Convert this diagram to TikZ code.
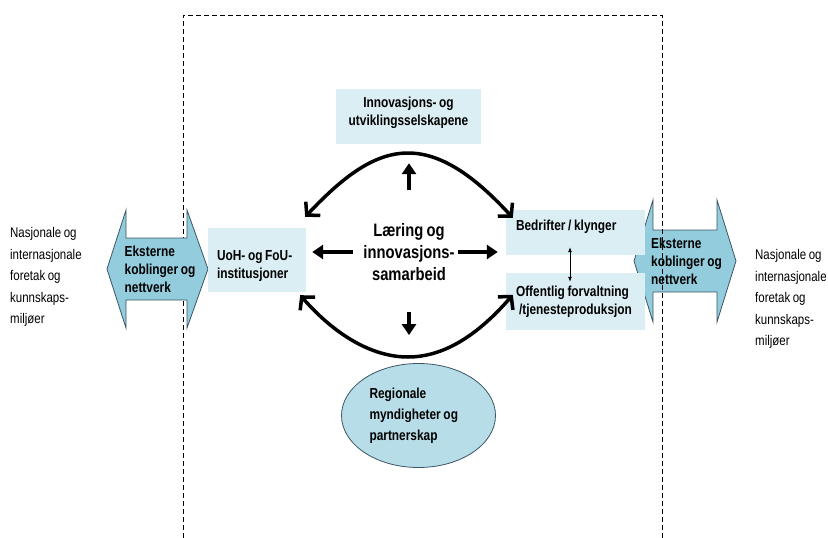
\documentclass[tikz,border=0pt]{standalone}
\usepackage{fontspec}
\setmainfont{Liberation Sans}[FakeStretch=0.82,WordSpace=0.8]
\usepackage{tikz}
\usetikzlibrary{arrows.meta}
\usetikzlibrary{shapes.geometric}
\definecolor{boxblue}{HTML}{DBEEF4}
\definecolor{arrowblue}{HTML}{93CDDD}
\definecolor{ellblue}{HTML}{B7DEE8}
\definecolor{edgegrey}{HTML}{3B5566}

\begin{document}
\begin{tikzpicture}[x=1pt,y=-1pt,
		infobox/.style={fill=boxblue,inner sep=0pt,font=\bfseries\fontsize{14.5}{18}\selectfont},
		blockarrow/.style={fill=arrowblue,draw=edgegrey,line width=0.8pt},
		bigarrow/.style={line width=3.5pt,-{Triangle[length=11pt,width=14pt]}},
		bendarrow/.style={line width=3.5pt,{Straight Barb[length=9pt,width=20pt]}-{Straight Barb[length=9pt,width=20pt]}},
		outertext/.style={align=left,anchor=west,inner sep=0pt,font=\fontsize{14}{21.5}\selectfont}]
				\useasboundingbox (0,0) rectangle (828,538);
				\def\rmid{261};
				% right block arrow sits under the frame
				\draw[blockarrow] (634,\rmid) -- (653,200) -- (653,230) -- (717,230) -- (717,200) -- (736,\rmid)
				-- (717,322) -- (717,292) -- (653,292) -- (653,322) -- cycle;
				\draw[dashed,line width=0.6pt,dash pattern=on 5pt off 3pt] (183,538) -- (183,15) -- (662,15) -- (662,538);
				\draw[blockarrow] (107,269) -- (126,210) -- (126,238) -- (187,238) -- (187,210) -- (208,269)
				-- (187,328) -- (187,300) -- (126,300) -- (126,328) -- cycle;
				\node[infobox,fill=none,align=left] (extL) at (160,269) {Eksterne\\koblinger og\\nettverk};
				\node[infobox,fill=none,align=left] (extR) at (686.5,\rmid) {Eksterne\\koblinger og\\nettverk};
				% boxes
				\node[infobox,minimum width=98,minimum height=64,align=flush left,text width=80,text depth=9.5pt] (uoh) at (257,260)
				{UoH- og FoU-\\institusjoner};
				\node[infobox,minimum width=145,minimum height=55,align=center,text depth=11pt] (innov) at (408.5,116.5)
				{Innovasjons- og\\utviklingsselskapene};
				\node[infobox,minimum width=139,minimum height=45,align=flush left,text width=119,text depth=15pt] (bedrift) at (575.5,232.5)
				{Bedrifter / klynger};
				\node[infobox,minimum width=139,minimum height=57,align=flush left,text width=119] (offentlig) at (575.5,301.5)
				{Offentlig forvaltning\\\hspace{3pt}/tjenesteproduksjon};
				\node[infobox,fill=ellblue,draw=edgegrey,line width=0.8pt,ellipse,minimum width=154,minimum height=104,
				align=flush left,text width=98,font=\bfseries\fontsize{14.5}{21}\selectfont] (region) at (418.5,415.5)
				{Regionale\\myndigheter og\\partnerskap};
				\node[inner sep=0pt,minimum width=92,minimum height=72,align=center,
				font=\bfseries\fontsize{18}{22}\selectfont] (laering) at (409,252) {Læring og\\innovasjons-\\samarbeid};
				% outside the frame
				\node[outertext] (natL) at (10,277) {Nasjonale og\\internasjonale\\foretak og\\kunnskaps-\\miljøer};
				\node[outertext] (natR) at (755,299) {Nasjonale og\\internasjonale\\foretak og\\kunnskaps-\\miljøer};
				% arrows
				\draw[bigarrow,shorten <=10pt,shorten >=6pt] (laering.west) -- (uoh.east |- laering.west);
				\draw[bigarrow,shorten <=3pt,shorten >=8pt] (laering.east) -- (bedrift.west |- laering.east);
				\draw[bigarrow,shorten <=26pt,shorten >=19pt] (laering.north) -- (laering.north |- innov.south);
				\draw[bigarrow,shorten <=24pt,shorten >=28pt] (laering.south) -- (laering.south |- region.north);
				\draw[bendarrow] ([shift={(-1pt,11pt)}]uoh.north east) .. controls (340,180) and (372,153) .. (408,153)
				.. controls (444,153) and (478,180) .. ([shift={(7pt,-8pt)}]bedrift.north west);
				\draw[bendarrow] ([shift={(-6pt,-3pt)}]uoh.south east) .. controls (335,335) and (372,357) .. (408,357)
				.. controls (444,357) and (478,335) .. ([shift={(7pt,-22pt)}]offentlig.north west);
				\draw[{Latex[length=5pt,width=4pt]}-{Latex[length=5pt,width=4pt]},line width=0.8pt,shorten <=-8pt,shorten >=-9pt]
				([xshift=-5.5pt]bedrift.south) -- ([xshift=-5.5pt]offentlig.north);
			\end{tikzpicture}
\end{document}
